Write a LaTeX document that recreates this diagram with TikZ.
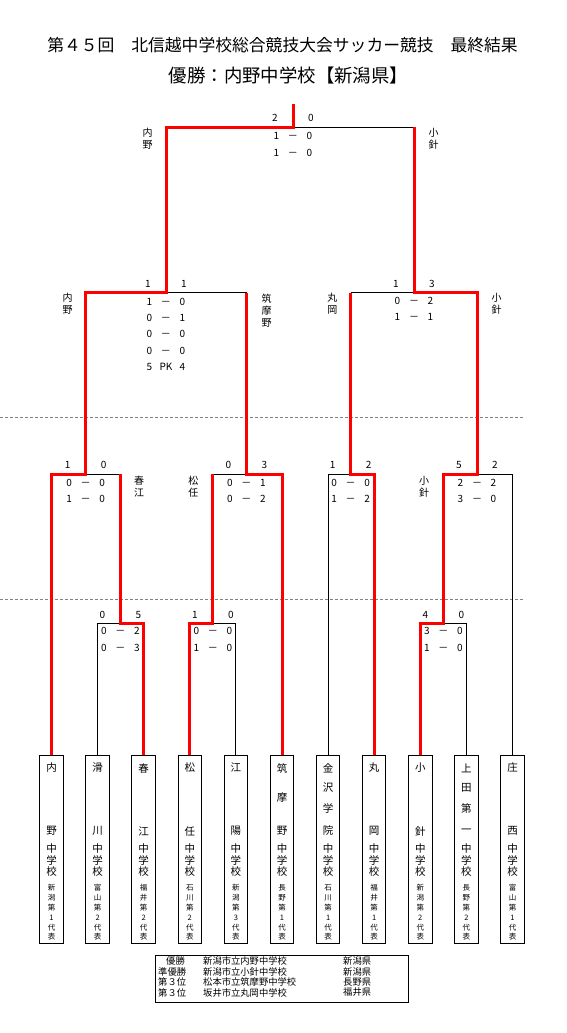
\documentclass[tikz,border=0pt]{standalone}
\usepackage{fontspec}
\setmainfont{Noto Sans CJK JP}
\definecolor{winred}{RGB}{255,0,0}
\definecolor{daygray}{RGB}{130,130,130}
\newcommand{\scorerow}[3][－]{\makebox[16.5pt]{#2}\makebox[16.5pt]{#1}\makebox[16.5pt]{#3}}
\newcommand{\scorehead}[2]{\makebox[0pt]{#1}\hspace{36pt}\makebox[0pt]{#2}}
\newcommand{\teamcol}[4]{%
  \node[teambox] (#1) at (#2,849) {};
  \foreach \yy/\ch [count=\k] in {#3,848/中,860/学,872/校}
    \node[boxtext] (#1-n\k) at (#2,\yy) {\ch};
  \foreach \ch [count=\k] in {#4}
    \node[boxsmall] (#1-p\k) at (#2,{878.2+9.8*\k}) {\ch};
}

\begin{document}
\begin{tikzpicture}[x=1pt,y=-1pt,line join=miter,
  lose/.style={black,line width=0.9pt},
  win/.style={winred,line width=3pt},
  dayline/.style={daygray,line width=0.6pt,dash pattern=on 3pt off 2pt},
  teambox/.style={draw,line width=1pt,minimum width=23.5pt,minimum height=188pt,inner sep=0},
  boxtext/.style={font=\fontsize{10.5}{12}\selectfont,inner sep=0},
  boxsmall/.style={font=\fontsize{7.5}{9}\selectfont,inner sep=0},
  sc/.style={font=\fontsize{10}{12}\selectfont,inner sep=0},
  side/.style={font=\fontsize{10}{12}\selectfont,align=center,inner sep=0},
  tab/.style={font=\fontsize{9.3}{11}\selectfont,anchor=west,inner sep=0}]
 \useasboundingbox (0,0) rectangle (567,1033);
 % heading
 \node[font=\fontsize{16.8}{20}\selectfont] (title) at (282.5,45) {第４５回　北信越中学校総合競技大会サッカー競技　最終結果};
 \node[font=\fontsize{18.4}{22}\selectfont] (champ) at (288.5,76) {優勝：内野中学校【新潟県】};
 % day separators
 \draw[dayline] (0,417) -- (523,417);
 \draw[dayline] (0,599) -- (523,599);
 % teams
 \teamcol{uchino}{51.5}{768/内,831/野}{新,潟,第,1,代,表}
 \teamcol{namerikawa}{97.6}{768/滑,831/川}{富,山,第,2,代,表}
 \teamcol{harue}{143.7}{768/春,831/江}{福,井,第,2,代,表}
 \teamcol{matto}{189.8}{768/松,831/任}{石,川,第,2,代,表}
 \teamcol{koyo}{235.9}{768/江,831/陽}{新,潟,第,3,代,表}
 \teamcol{chikumano}{282}{768/筑,798/摩,831/野}{長,野,第,1,代,表}
 \teamcol{kanazawa}{328.1}{768/金,788/沢,808/学,831/院}{石,川,第,1,代,表}
 \teamcol{maruoka}{374.2}{768/丸,831/岡}{福,井,第,1,代,表}
 \teamcol{kobari}{420.3}{768/小,831/針}{新,潟,第,2,代,表}
 \teamcol{uedadaiichi}{466.4}{768/上,788/田,808/第,831/一}{長,野,第,2,代,表}
 \teamcol{shonishi}{512.5}{768/庄,831/西}{富,山,第,1,代,表}
 % match points
 \coordinate (m1) at (120.5,623);
 \coordinate (m2) at (212.8,623);
 \coordinate (m3) at (443.3,623);
 \coordinate (q1) at (85.75,474);
 \coordinate (q2) at (246.5,474);
 \coordinate (q3) at (350.7,474);
 \coordinate (q4) at (477,474);
 \coordinate (s1) at (166,292.7);
 \coordinate (s2) at (414,292.7);
 \coordinate (f) at (293,127);
 \coordinate (top) at (293,104);
 % losing sides
 \draw[lose] (namerikawa.north) |- (m1);
 \draw[lose] (koyo.north) |- (m2);
 \draw[lose] (uedadaiichi.north) |- (m3);
 \draw[lose] (kanazawa.north) |- (q3);
 \draw[lose] (shonishi.north) |- (q4);
 \draw[lose] (q1) -- (q1 -| m1);
 \draw[lose] (q2) -- (q2 -| m2);
 \draw[lose] (s1) -- (s1 -| q2);
 \draw[lose] (s2) -- (s2 -| q3);
 \draw[lose] (f) -- (f -| s2);
 % winning sides
 \draw[win] (harue.north) |- (m1) -- (m1 |- q1);
 \draw[win] (matto.north) |- (m2) -- (m2 |- q2);
 \draw[win] (chikumano.north) |- (q2) -- (q2 |- s1);
 \draw[win] (maruoka.north) |- (q3) -- (q3 |- s2);
 \draw[win] (kobari.north) |- (m3) -- (m3 |- q4) -- (q4) -- (q4 |- s2) -- (s2) -- (s2 |- f);
 \draw[win] (uchino.north) |- (q1) -- (q1 |- s1) -- (s1) -- (s1 |- f) -- (f) -- (top);
 % final
 \node[sc] (f-h) at (293,118) {\scorehead{2}{0}};
 \node[sc] (f-1) at (293,135.5) {\scorerow{1}{0}};
 \node[sc] (f-2) at (293,152.5) {\scorerow{1}{0}};
 \node[side] (f-l) at (147.5,139) {内\\野};
 \node[side] (f-r) at (433.5,139) {小\\針};
 % semifinals
 \node[sc] (s1-h) at (166,283.7) {\scorehead{1}{1}};
 \node[sc] (s1-1) at (166,301.5) {\scorerow{1}{0}};
 \node[sc] (s1-2) at (166,317.5) {\scorerow{0}{1}};
 \node[sc] (s1-3) at (166,334) {\scorerow{0}{0}};
 \node[sc] (s1-4) at (166,350.5) {\scorerow{0}{0}};
 \node[sc] (s1-5) at (166,367) {\scorerow[PK]{5}{4}};
 \node[side] (s1-l) at (67.7,304) {内\\野};
 \node[side] (s1-r) at (266.5,310.5) {筑\\摩\\野};
 \node[sc] (s2-h) at (414,283.7) {\scorehead{1}{3}};
 \node[sc] (s2-1) at (414,301) {\scorerow{0}{2}};
 \node[sc] (s2-2) at (414,316.5) {\scorerow{1}{1}};
 \node[side] (s2-l) at (332.3,304) {丸\\岡};
 \node[side] (s2-r) at (496.7,304) {小\\針};
 % second round
 \node[sc] (q1-h) at (85.75,465) {\scorehead{1}{0}};
 \node[sc] (q1-1) at (85.75,482.5) {\scorerow{0}{0}};
 \node[sc] (q1-2) at (85.75,499.3) {\scorerow{1}{0}};
 \node[side] (q1-r) at (139,486.5) {春\\江};
 \node[sc] (q2-h) at (246.5,465) {\scorehead{0}{3}};
 \node[sc] (q2-1) at (246.5,482.5) {\scorerow{0}{1}};
 \node[sc] (q2-2) at (246.5,499.3) {\scorerow{0}{2}};
 \node[side] (q2-l) at (193.3,486.5) {松\\任};
 \node[sc] (q3-h) at (350.7,465) {\scorehead{1}{2}};
 \node[sc] (q3-1) at (350.7,482.5) {\scorerow{0}{0}};
 \node[sc] (q3-2) at (350.7,499.3) {\scorerow{1}{2}};
 \node[sc] (q4-h) at (477,465) {\scorehead{5}{2}};
 \node[sc] (q4-1) at (477,482.5) {\scorerow{2}{2}};
 \node[sc] (q4-2) at (477,499.3) {\scorerow{3}{0}};
 \node[side] (q4-l) at (424,486.5) {小\\針};
 % first round
 \node[sc] (m1-h) at (120.5,614.5) {\scorehead{0}{5}};
 \node[sc] (m1-1) at (120.5,631) {\scorerow{0}{2}};
 \node[sc] (m1-2) at (120.5,647.7) {\scorerow{0}{3}};
 \node[sc] (m2-h) at (212.8,614.5) {\scorehead{1}{0}};
 \node[sc] (m2-1) at (212.8,631) {\scorerow{0}{0}};
 \node[sc] (m2-2) at (212.8,647.7) {\scorerow{1}{0}};
 \node[sc] (m3-h) at (443.3,614.5) {\scorehead{4}{0}};
 \node[sc] (m3-1) at (443.3,631) {\scorerow{3}{0}};
 \node[sc] (m3-2) at (443.3,647.7) {\scorerow{1}{0}};
 % final standings
 \node[draw,line width=1pt,minimum width=253pt,minimum height=47pt,inner sep=0] (results) at (281.5,978.5) {};
 \node[tab] (r1a) at (166,961) {優勝};
 \node[tab] (r1b) at (203,961) {新潟市立内野中学校};
 \node[tab] (r1c) at (343,961) {新潟県};
 \node[tab] (r2a) at (158,971.5) {準優勝};
 \node[tab] (r2b) at (203,971.5) {新潟市立小針中学校};
 \node[tab] (r2c) at (343,971.5) {新潟県};
 \node[tab] (r3a) at (158,982) {第３位};
 \node[tab] (r3b) at (203,982) {松本市立筑摩野中学校};
 \node[tab] (r3c) at (343,982) {長野県};
 \node[tab] (r4a) at (158,992.5) {第３位};
 \node[tab] (r4b) at (203,992.5) {坂井市立丸岡中学校};
 \node[tab] (r4c) at (343,992.5) {福井県};
\end{tikzpicture}
\end{document}
